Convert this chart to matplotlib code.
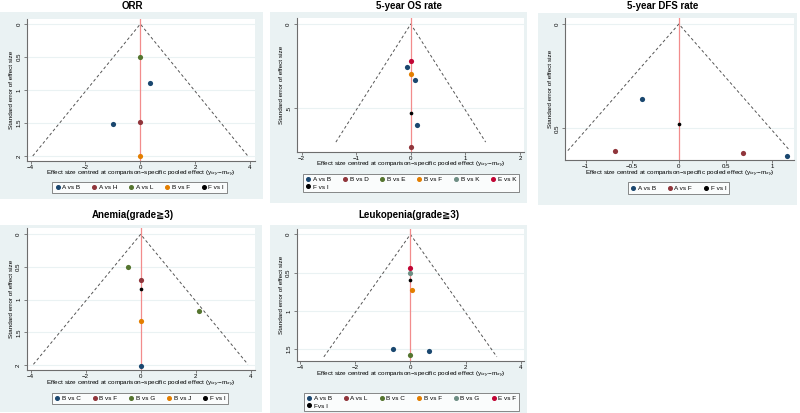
import matplotlib
matplotlib.use("Agg")
import matplotlib.pyplot as plt
from matplotlib.lines import Line2D
from matplotlib.patches import Rectangle

plt.rcParams['font.family'] = ['Liberation Sans', 'DejaVu Sans']

# ---------------- data ----------------
orr_labels = ["A vs B", "A vs H", "A vs L", "B vs F", "F vs I"]
orr_x = [[0.34, -1.00], [0.0], [0.0], [0.0], []]
orr_se = [[0.89, 1.51], [1.48], [0.50], [2.00], []]
orr_xticks = [-4, -2, 0, 2, 4]
orr_yticks = [0, 0.5, 1, 1.5, 2]
orr_yticklabels = ["0", "0.5", "1", "1.5", "2"]

os_labels = ["A vs B", "B vs D", "B vs E", "B vs F", "B vs K", "E vs K", "F vs I"]
os_x = [[-0.067, 0.079, 0.11], [0.0], [], [0.0], [], [0.0], [0.0]]
os_se = [[0.257, 0.332, 0.601], [0.727], [], [0.294], [], [0.217], [0.526]]
os_xticks = [-2, -1, 0, 1, 2]
os_yticks = [0, 0.5]
os_yticklabels = ["0", ".5"]

dfs_labels = ["A vs B", "A vs F", "F vs I"]
dfs_x = [[-0.39, 1.16], [-0.68, 0.69], [0.0]]
dfs_se = [[0.361, 0.631], [0.607, 0.618], [0.478]]
dfs_xticks = [-1, -0.5, 0, 0.5, 1]
dfs_xticklabels = ["\u22121", "\u22120.5", "0", "0.5", "1"]
dfs_yticks = [0, 0.5]
dfs_yticklabels = ["0", "0.5"]

ane_labels = ["B vs C", "B vs F", "B vs G", "B vs J", "F vs I"]
ane_x = [[0.0], [0.0], [-0.45, 2.12], [0.0], [0.0]]
ane_se = [[2.02], [0.70], [0.495, 1.18], [1.32], [0.84]]
ane_xticks = [-4, -2, 0, 2, 4]
ane_yticks = [0, 0.5, 1, 1.5, 2]
ane_yticklabels = ["0", "0.5", "1", "1.5", "2"]

leu_labels = ["A vs B", "A vs L", "B vs C", "B vs F", "B vs G", "E vs F", "Fvs I"]
leu_x = [[-0.63, 0.67], [], [0.0], [0.06], [0.0], [0.0], [0.0]]
leu_se = [[1.50, 1.52], [], [1.58], [0.726], [0.50], [0.443], [0.59]]
leu_xticks = [-4, -2, 0, 2, 4]
leu_yticks = [0, 0.5, 1, 1.5]
leu_yticklabels = ["0", "0.5", "1", "1.5"]

titles = ["ORR", "5-year OS rate", "5-year DFS rate",
          "Anemia(grade\u22673)", "Leukopenia(grade\u22673)"]
funnel_max_se = [2.0, 0.70, 0.607, 1.99, 1.60]

# ---------------- style ----------------
W, H = 800, 413
series_colors = ["#1A476F", "#90353B", "#55752F", "#E37E00", "#6E8E84", "#C10534"]
bg_col = "#EAF2F3"
axis_col = "#6d6d6d"

fig = plt.figure(figsize=(W / 100, H / 100), dpi=100)
fig.patch.set_facecolor("white")


def fx(px):
    return px / W


def fy(py):
    return 1 - py / H


panels = [
    dict(title=titles[0], labels=orr_labels, xs=orr_x, ses=orr_se, xticks=orr_xticks, xtl=None,
         yticks=orr_yticks, ytl=orr_yticklabels, box=(0, 12, 263, 199),
         ax=(27, 19, 255, 161), xlim=(-4.13, 4.18), ylim=(2.076, -0.076),
         title_xy=(132, 6), xlab_y=174, ncol=5, leg_xy=(139.5, 187.5), fse=funnel_max_se[0]),
    dict(title=titles[1], labels=os_labels, xs=os_x, ses=os_se, xticks=os_xticks, xtl=None,
         yticks=os_yticks, ytl=os_yticklabels, box=(270, 12, 527, 203),
         ax=(296.7, 18.3, 524.3, 151.7), xlim=(-2.09, 2.08), ylim=(0.757, -0.034),
         title_xy=(409, 6), xlab_y=164.5, ncol=6, leg_xy=(411, 183), fse=funnel_max_se[1]),
    dict(title=titles[2], labels=dfs_labels, xs=dfs_x, ses=dfs_se, xticks=dfs_xticks, xtl=dfs_xticklabels,
         yticks=dfs_yticks, ytl=dfs_yticklabels, box=(538, 13, 797, 205),
         ax=(565, 18, 794.3, 160), xlim=(-1.22, 1.237), ylim=(0.652, -0.029),
         title_xy=(663, 6), xlab_y=174, ncol=3, leg_xy=(678.5, 188), fse=funnel_max_se[2]),
    dict(title=titles[3], labels=ane_labels, xs=ane_x, ses=ane_se, xticks=ane_xticks, xtl=None,
         yticks=ane_yticks, ytl=ane_yticklabels, box=(0, 225, 262, 412),
         ax=(26.7, 228.3, 255, 370), xlim=(-4.145, 4.16), ylim=(2.077, -0.092),
         title_xy=(133, 215), xlab_y=384, ncol=5, leg_xy=(140, 398.5), fse=funnel_max_se[3]),
    dict(title=titles[4], labels=leu_labels, xs=leu_x, ses=leu_se, xticks=leu_xticks, xtl=None,
         yticks=leu_yticks, ytl=leu_yticklabels, box=(270, 225, 527, 413),
         ax=(296.7, 229, 524.3, 360.7), xlim=(-4.12, 4.13), ylim=(1.65, -0.07),
         title_xy=(409, 215), xlab_y=375, ncol=6, leg_xy=(411.5, 402), fse=funnel_max_se[4]),
]

xlabel = "Effect size centred at comparison\u2212specific pooled effect (y$_{ixy}$\u2212m$_{xy}$)"

for p in panels:
    bx0, by0, bx1, by1 = p["box"]
    fig.patches.append(Rectangle((fx(bx0), fy(by1)), fx(bx1 - bx0), (by1 - by0) / H,
                                 transform=fig.transFigure, facecolor=bg_col,
                                 edgecolor="none", zorder=-5))
    l, t, r, b = p["ax"]
    ax = fig.add_axes([fx(l), fy(b), fx(r - l), (b - t) / H])
    ax.set_facecolor("white")
    ax.set_xlim(*p["xlim"])
    ax.set_ylim(*p["ylim"])
    for s in ["top", "right"]:
        ax.spines[s].set_visible(False)
    for s in ["left", "bottom"]:
        ax.spines[s].set_color(axis_col)
        ax.spines[s].set_linewidth(0.8)
    ax.set_xticks(p["xticks"])
    if p["xtl"] is not None:
        ax.set_xticklabels(p["xtl"])
    ax.set_yticks(p["yticks"])
    ax.set_yticklabels(p["ytl"], rotation=90, va="center")
    ax.tick_params(axis="x", labelsize=4.4, length=2, width=0.6, color=axis_col, pad=0.8)
    ax.tick_params(axis="y", labelsize=4.4, length=2.5, width=0.6, color=axis_col, pad=1.5)
    ax.yaxis.grid(True, color=bg_col, linewidth=0.8)
    ax.set_axisbelow(True)

    # funnel
    m = p["fse"]
    ax.plot([-1.96 * m, 0, 1.96 * m], [m, 0, m], linestyle=(0, (3, 2.5)),
            color="#555555", linewidth=0.7, zorder=2)
    ax.axvline(0, color="#F28C8C", linewidth=0.9, zorder=2)

    handles = []
    n = len(p["labels"])
    for i, (lab, xv, sv) in enumerate(zip(p["labels"], p["xs"], p["ses"])):
        col = "black" if i == n - 1 else series_colors[i]
        size = 7 if i == n - 1 else 14
        ax.scatter(xv, sv, s=size, color=col, zorder=3, linewidths=0, clip_on=False)
        handles.append(Line2D([], [], marker="o", linestyle="none", color=col,
                              markersize=2.6, label=lab))

    fig.text(fx(p["title_xy"][0]), fy(p["title_xy"][1]), p["title"], ha="center", va="center",
             fontsize=7, fontweight="bold")
    fig.text(fx((l + r) / 2), fy(p["xlab_y"]), xlabel, ha="center", va="center", fontsize=4.6)
    fig.text(fx(l - 15), fy((t + b) / 2), "Standard error of effect size", rotation=90,
             ha="center", va="center", fontsize=4.6)

    if n > p["ncol"]:
        order = [0, n - 1] + list(range(1, n - 1))
        handles = [handles[k] for k in order]
    leg = fig.legend(handles=handles, loc="center", ncol=p["ncol"],
                     bbox_to_anchor=(fx(p["leg_xy"][0]), fy(p["leg_xy"][1])),
                     bbox_transform=fig.transFigure, fontsize=4.6, frameon=True,
                     fancybox=False, edgecolor="#555555", facecolor="white",
                     handletextpad=0.3, columnspacing=1.8, handlelength=0.8,
                     borderpad=0.45, labelspacing=0.35, borderaxespad=0)
    leg.get_frame().set_linewidth(0.6)

fig.savefig("out.png", dpi=100)
